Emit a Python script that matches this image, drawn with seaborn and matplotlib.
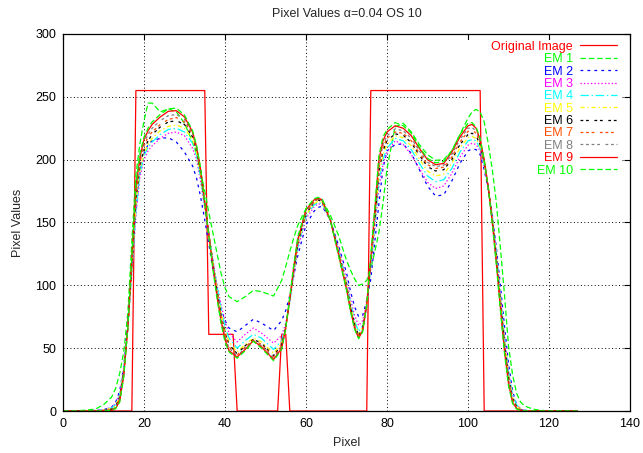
import pandas as pd
import matplotlib
matplotlib.use("Agg")
import matplotlib.pyplot as plt
from matplotlib.patches import Rectangle
import seaborn as sns

sns.set_theme(style="white")
plt.rcParams['font.family'] = ['Liberation Sans', 'DejaVu Sans']
plt.rcParams['lines.scale_dashes'] = False

# original image (step profile)
orig_x = [0, 17, 18, 35, 36, 42, 43, 53, 54, 55, 56, 75, 76, 103, 104, 127]
orig_y = [0, 0, 255, 255, 61, 61, 0, 0, 61, 61, 0, 0, 255, 255, 0, 0]

# pixel positions at which the EM reconstructions were read
em_x = [0, 5, 8, 10, 12,
        13, 14, 15, 16, 17, 18, 19, 20, 21, 22,
        24, 26, 28, 30, 32,
        33, 34, 35, 36, 37, 38, 39, 40, 41,
        43, 45, 47, 49, 52,
        54, 55, 56, 57, 58,
        60, 62, 63, 64, 66, 68,
        70, 71, 72, 73, 74, 75, 76, 77, 78, 79, 80,
        82, 84, 86, 88, 90, 92, 94, 96, 98,
        100, 101, 102, 103, 104, 105, 106, 107, 108, 109, 110, 111, 112, 113, 114,
        116, 118, 121, 127]

em1 = [0, 0.5, 1.5, 5, 11,
       18, 30, 47, 78, 135, 188, 213, 231, 245, 245,
       238, 240.5, 238, 229, 214,
       204, 190, 175, 158, 142, 126, 110, 98, 91,
       87, 91, 96, 95, 91.5,
       104, 115, 127, 138, 148,
       161, 167, 169, 168, 156, 140,
       120, 112, 105, 100, 101, 104, 113, 127, 142, 165, 193,
       226, 229, 222, 212, 204, 199.5, 200, 207, 220,
       233, 238, 240, 238, 230, 213, 192, 166, 130, 93, 52, 29, 14, 7, 4,
       1.5, 0.5, 0, 0]
em2 = [0, 0, 0.5, 1, 3,
       7, 16, 35, 70, 115, 160, 190, 205, 212, 215,
       217, 217.5, 214, 206, 195,
       185, 170, 152, 133, 113, 96, 82, 72, 66,
       63, 68, 73, 70, 64,
       72, 80, 92, 108, 124,
       148, 159, 162, 163, 152, 132,
       110, 95, 83, 75, 76, 88, 105, 135, 165, 193, 207,
       212, 212.5, 205, 192, 179, 171, 172, 183, 197,
       207, 208.5, 208, 204, 192, 176, 156, 130, 100, 68, 38, 16, 5, 1.5, 0.5,
       0, 0, 0, 0]
em3 = [0, 0, 0.5, 1, 3,
       6, 14, 34, 67, 110, 156, 186, 200, 207, 211,
       217, 221, 222, 219, 209,
       200, 182, 161, 140, 120, 101, 85, 71, 62,
       55, 61, 66, 62, 54,
       60, 70, 87, 108, 129,
       153, 162.5, 165, 164, 152, 131,
       105, 89, 76, 68, 72, 86, 113, 145, 178, 196, 206,
       215, 212, 204, 193, 182, 177, 179, 189, 202,
       211.5, 213, 212, 207, 194, 177, 154, 126, 93, 60, 32, 13, 5, 1.5, 0.5,
       0, 0, 0, 0]
em4 = [0, 0, 0, 1, 2.5,
       5, 13, 33, 66, 112, 160, 189, 203, 210, 214,
       220, 224, 225, 222, 213,
       203, 185, 163, 141, 120, 100, 82, 67, 58,
       50, 56, 61, 58, 49,
       56, 68, 87, 110, 131,
       155, 164, 166, 165, 152, 129,
       102, 86, 72, 63, 68, 84, 115, 148, 183, 200, 209,
       217, 215, 208, 197, 187, 182.5, 184, 193, 206,
       215, 216, 215, 209, 196, 178, 155, 126, 92, 58, 31, 13, 5, 1.5, 0.5,
       0, 0, 0, 0]
em5 = [0, 0, 0, 1, 2,
       4, 12, 32, 66, 114, 164, 192, 205, 212, 217,
       223, 226.5, 227.5, 225, 216,
       205, 187, 164, 141, 119, 98, 79, 64, 55,
       47, 53, 58, 55, 46,
       54, 67, 88, 111, 133,
       156, 165, 167, 166, 152, 128,
       101, 84, 70, 61, 67, 84, 117, 151, 187, 204, 212,
       219, 217.5, 211, 200.5, 191, 187, 188.5, 197, 209.5,
       217.5, 218.5, 217, 210.5, 197, 178, 154, 124, 90, 56, 29, 11, 4, 1.5, 0,
       0, 0, 0, 0]
em6 = [0, 0, 0, 0.5, 1.5,
       3.5, 11, 31, 66, 116, 168, 195, 208, 215, 220,
       226, 230, 231, 228, 218,
       207, 189, 165, 141, 118, 96, 77, 62, 53,
       45.5, 52, 57, 54, 44,
       53, 67, 88, 112, 134,
       157, 166, 168, 166.5, 152, 127,
       100, 83, 69, 60, 66, 84, 118, 153, 190, 207, 215,
       220.5, 219.5, 213.5, 203.5, 194.5, 191, 192, 200, 212,
       220, 221, 219, 212, 198, 178, 153, 122, 88, 54, 27, 10, 3.5, 1, 0,
       0, 0, 0, 0]
em7 = [0, 0, 0, 0.5, 1,
       3, 10, 30, 66, 118, 172, 198, 211, 218, 222,
       228, 232, 233.5, 230, 220,
       208, 190, 166, 141, 118, 95, 76, 61, 51,
       44.5, 51, 56.5, 53, 43,
       52, 66, 89, 113, 135,
       158, 166.5, 168.5, 167, 152, 126,
       99, 82, 68, 59, 65, 84, 119, 155, 193, 210, 217,
       222, 221, 215, 205, 196, 193, 194, 202, 214,
       222.5, 223.5, 221, 214, 199, 178, 152, 121, 86, 52, 25, 9, 3, 1, 0,
       0, 0, 0, 0]
em8 = [0, 0, 0, 0.5, 1,
       2.5, 9, 29, 66, 120, 175, 200, 213, 220, 225,
       231, 235, 236, 232, 221,
       209, 191, 166, 141, 117, 94, 74, 59, 50,
       44, 50, 56, 52, 42,
       51, 66, 89, 114, 136,
       159, 167, 169, 167.5, 152, 126,
       98, 81, 67, 58.5, 64, 84, 120, 157, 196, 212, 219,
       224.5, 223, 217, 207, 198, 194.5, 195.5, 204, 216,
       225, 225.5, 223, 215, 199, 178, 151, 120, 84, 50, 24, 8, 2.5, 1, 0,
       0, 0, 0, 0]
em9 = [0, 0, 0, 0, 0.5,
       2, 8, 28, 66, 122, 178, 202, 216, 223, 228,
       234, 238.5, 239, 234, 222,
       210, 192, 166, 140, 115, 92, 72, 57, 48,
       43, 49, 56, 51, 41,
       50, 66, 90, 115, 137,
       160, 168, 169.5, 168, 152, 125,
       97, 80, 66, 58, 64, 85, 122, 160, 200, 215, 222,
       227, 225, 219, 209, 200, 196, 197, 206, 218,
       227, 228, 225, 216, 200, 178, 150, 118, 82, 48, 22, 7, 2, 0.5, 0,
       0, 0, 0, 0]
em10 = [0, 0, 0, 0, 0.5,
        2, 7, 27, 66, 124, 181, 205, 218, 225, 230,
        236, 240.5, 241, 235.5, 223,
        211, 193, 166, 139, 113, 90, 70, 55, 47,
        42, 48, 55.5, 50, 40,
        49, 66, 91, 117, 139,
        161, 169, 170, 168.5, 152, 124,
        96, 79, 65, 57.5, 63, 85, 124, 163, 203, 218, 224,
        229.5, 227, 221, 210, 201, 197.5, 198.5, 207, 220,
        229, 229.5, 226, 217, 200, 177, 149, 116, 80, 46, 20, 6, 1.5, 0.5, 0,
        0, 0, 0, 0]

em_curves = [em1, em2, em3, em4, em5, em6, em7, em8, em9, em10]
em_names = ["EM %d" % (i + 1) for i in range(10)]

# gnuplot postscript line types
colors = ['#ff0000', '#00ff00', '#0000ff', '#ff00ff', '#00ffff', '#ffff00',
          '#000000', '#ff4d00', '#808080', '#ff0000', '#00ff00']
dash_styles = [None, (4, 2), (2, 3), (1, 1.5), (6, 2, 1, 2), (3, 2, 1, 2),
               (2, 2, 2, 4), (2, 2, 2, 2, 2, 4), (2, 2, 2, 2, 2, 2, 2, 4),
               None, (4, 2)]

fig = plt.figure(figsize=(6.43, 4.53), dpi=100)
ax = fig.add_axes([63 / 643, 1 - 411 / 453, 567 / 643, 377 / 453])

series = [("Original Image", orig_x, orig_y)] + \
    [(n, em_x, c) for n, c in zip(em_names, em_curves)]

for i, (name, xs, ys) in enumerate(series):
    df = pd.DataFrame({"Pixel": xs, "Value": ys})
    sns.lineplot(data=df, x="Pixel", y="Value", color=colors[i], linewidth=0.9,
                 estimator=None, label=name, ax=ax, zorder=2)
    if dash_styles[i] is not None:
        ax.lines[-1].set_dashes(dash_styles[i])

ax.set_xlim(0, 140)
ax.set_ylim(0, 300)
ax.set_xticks(range(0, 141, 20))
ax.set_yticks(range(0, 301, 50))
ax.set_axisbelow('line')
ax.grid(True, color='black', linestyle=(0, (0.7, 1.8)), linewidth=0.7)
ax.tick_params(direction='in', length=4.5, width=0.8, top=True, right=True,
               labelsize=9, pad=5, colors='black')
for sp in ax.spines.values():
    sp.set_color('black')
    sp.set_linewidth(0.9)

ax.set_title("Pixel Values \u03b1=0.04 OS 10", fontsize=9, pad=12)
ax.set_xlabel("Pixel", fontsize=9, labelpad=5)
ax.set_ylabel("Pixel Values", fontsize=9, labelpad=8)

# blank the key area like gnuplot does
ax.add_patch(Rectangle((0.7125, 0.6207), 0.2735, 0.3633, transform=ax.transAxes,
                       facecolor='white', edgecolor='none', zorder=1.6))

leg = ax.legend(loc='upper right', bbox_to_anchor=(0.977, 0.982), frameon=False,
                markerfirst=False, handlelength=2.96, handletextpad=0.56,
                labelspacing=0.03, borderpad=0, borderaxespad=0,
                fontsize=9, labelcolor='linecolor')
leg.set_zorder(1.7)

fig.savefig("out.png", dpi=100)
